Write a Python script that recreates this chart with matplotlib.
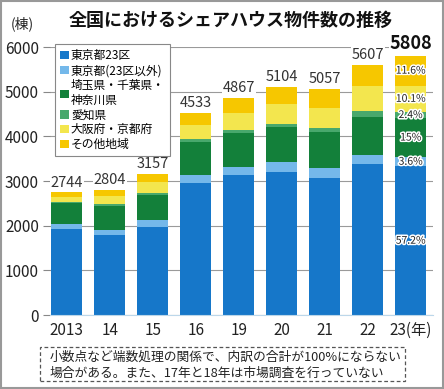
import matplotlib
matplotlib.use("Agg")
import matplotlib.pyplot as plt
import matplotlib.patheffects as pe
from matplotlib.patches import Rectangle
import numpy as np

plt.rcParams['font.family'] = ['Noto Sans CJK JP', 'DejaVu Sans']

years = ['2013', '14', '15', '16', '19', '20', '21', '22', '23(年)']
totals = [2744, 2804, 3157, 4533, 4867, 5104, 5057, 5607, 5808]

tokyo23 = [1930, 1790, 1975, 2950, 3130, 3210, 3060, 3390, 3328]
tokyo_other = [115, 110, 150, 190, 190, 205, 225, 200, 209]
saitama = [460, 530, 565, 730, 750, 785, 815, 840, 871]
aichi = [30, 50, 40, 60, 70, 80, 95, 130, 139]
osaka = [100, 190, 240, 330, 380, 450, 430, 560, 587]
other = [109, 134, 187, 273, 347, 374, 432, 487, 674]

series_names = ['東京都23区', '東京都(23区以外)', '埼玉県・千葉県・\n神奈川県',
                '愛知県', '大阪府・京都府', 'その他地域']
colors = ['#1677c9', '#74b8ea', '#13803a', '#48a86c', '#f3e64e', '#f6c700']
pct_2023 = ['57.2%', '3.6%', '15%', '2.4%', '10.1%', '11.6%']

fig = plt.figure(figsize=(4.44, 3.89), dpi=100)
ax = fig.add_axes([50 / 444, 1 - 315 / 389, 383 / 444, 268 / 389])

x = np.arange(len(years))
w = 0.73
bottom = np.zeros(len(years))
handles = []
for vals, c, name in zip([tokyo23, tokyo_other, saitama, aichi, osaka, other],
                         colors, series_names):
    b = ax.bar(x, vals, w, bottom=bottom, color=c, label=name, zorder=2)
    handles.append(b)
    bottom += np.array(vals)

# percentages on the last bar
seg_bottom = 0
for vals, p in zip([tokyo23, tokyo_other, saitama, aichi, osaka, other], pct_2023):
    v = vals[-1]
    ax.text(x[-1], seg_bottom + v / 2, p, ha='center', va='center', fontsize=7.5,
            color='#222222', zorder=4,
            path_effects=[pe.withStroke(linewidth=2.2, foreground='white')])
    seg_bottom += v

# totals
for i, t in enumerate(totals):
    last = i == len(totals) - 1
    ax.annotate(str(t), (x[i], t), xytext=(0, 2), textcoords='offset points',
                ha='center', va='bottom', fontsize=13 if last else 10.5,
                fontweight='bold' if last else 'normal',
                color='#111111' if last else '#333333', zorder=5,
                bbox=dict(facecolor='white', edgecolor='none', pad=0.5))

ax.set_xlim(-0.39, 8.52)
ax.set_ylim(0, 6000)
ax.set_yticks(range(0, 6001, 1000))
ax.set_xticks(x)
ax.set_xticklabels(years)
ax.tick_params(axis='y', length=5, color='#888888', labelsize=11, pad=3)
ax.tick_params(axis='x', length=0, labelsize=11, pad=5)
for lab in ax.get_yticklabels() + ax.get_xticklabels():
    lab.set_color('#222222')
ax.yaxis.grid(True, color='#9a9a9a', linewidth=0.8, zorder=0)
ax.set_axisbelow(True)
for s in ['top', 'right', 'left']:
    ax.spines[s].set_visible(False)
ax.spines['bottom'].set_color('#bcd7ea')

leg = ax.legend(handles=handles, loc='upper left', fontsize=8.5,
                bbox_to_anchor=(55 / 444, 1 - 44 / 389), bbox_transform=fig.transFigure,
                borderaxespad=0, frameon=True, fancybox=False, framealpha=1,
                edgecolor='#888888', handlelength=0.7, handleheight=0.7,
                handletextpad=0.2, labelspacing=0.15, borderpad=0.45)
leg.get_frame().set_linewidth(0.8)
leg.set_zorder(6)

fig.text(0.52, 1 - 20 / 389, '全国におけるシェアハウス物件数の推移', ha='center', va='center',
         fontsize=13, fontweight='bold', color='#111111')
fig.text(22 / 444, 1 - 24 / 389, '(棟)', ha='center', va='center', fontsize=10,
         color='#222222')

fig.patches.append(Rectangle((40 / 444, 1 - 381 / 389), 365 / 444, 34 / 389,
                             transform=fig.transFigure, fill=False,
                             edgecolor='#555555', linestyle=(0, (3, 2)), linewidth=0.9))
fig.text(50 / 444, 1 - 357 / 389, '小数点など端数処理の関係で、内訳の合計が100%にならない',
         ha='left', va='center', fontsize=9.2, color='#222222')
fig.text(50 / 444, 1 - 373 / 389, '場合がある。また、17年と18年は市場調査を行っていない',
         ha='left', va='center', fontsize=9.2, color='#222222')

fig.patches.append(Rectangle((0.002, 0.002), 0.996, 0.996, transform=fig.transFigure,
                             fill=False, edgecolor='#999999', linewidth=1.5))

fig.savefig('out.png', dpi=100)
